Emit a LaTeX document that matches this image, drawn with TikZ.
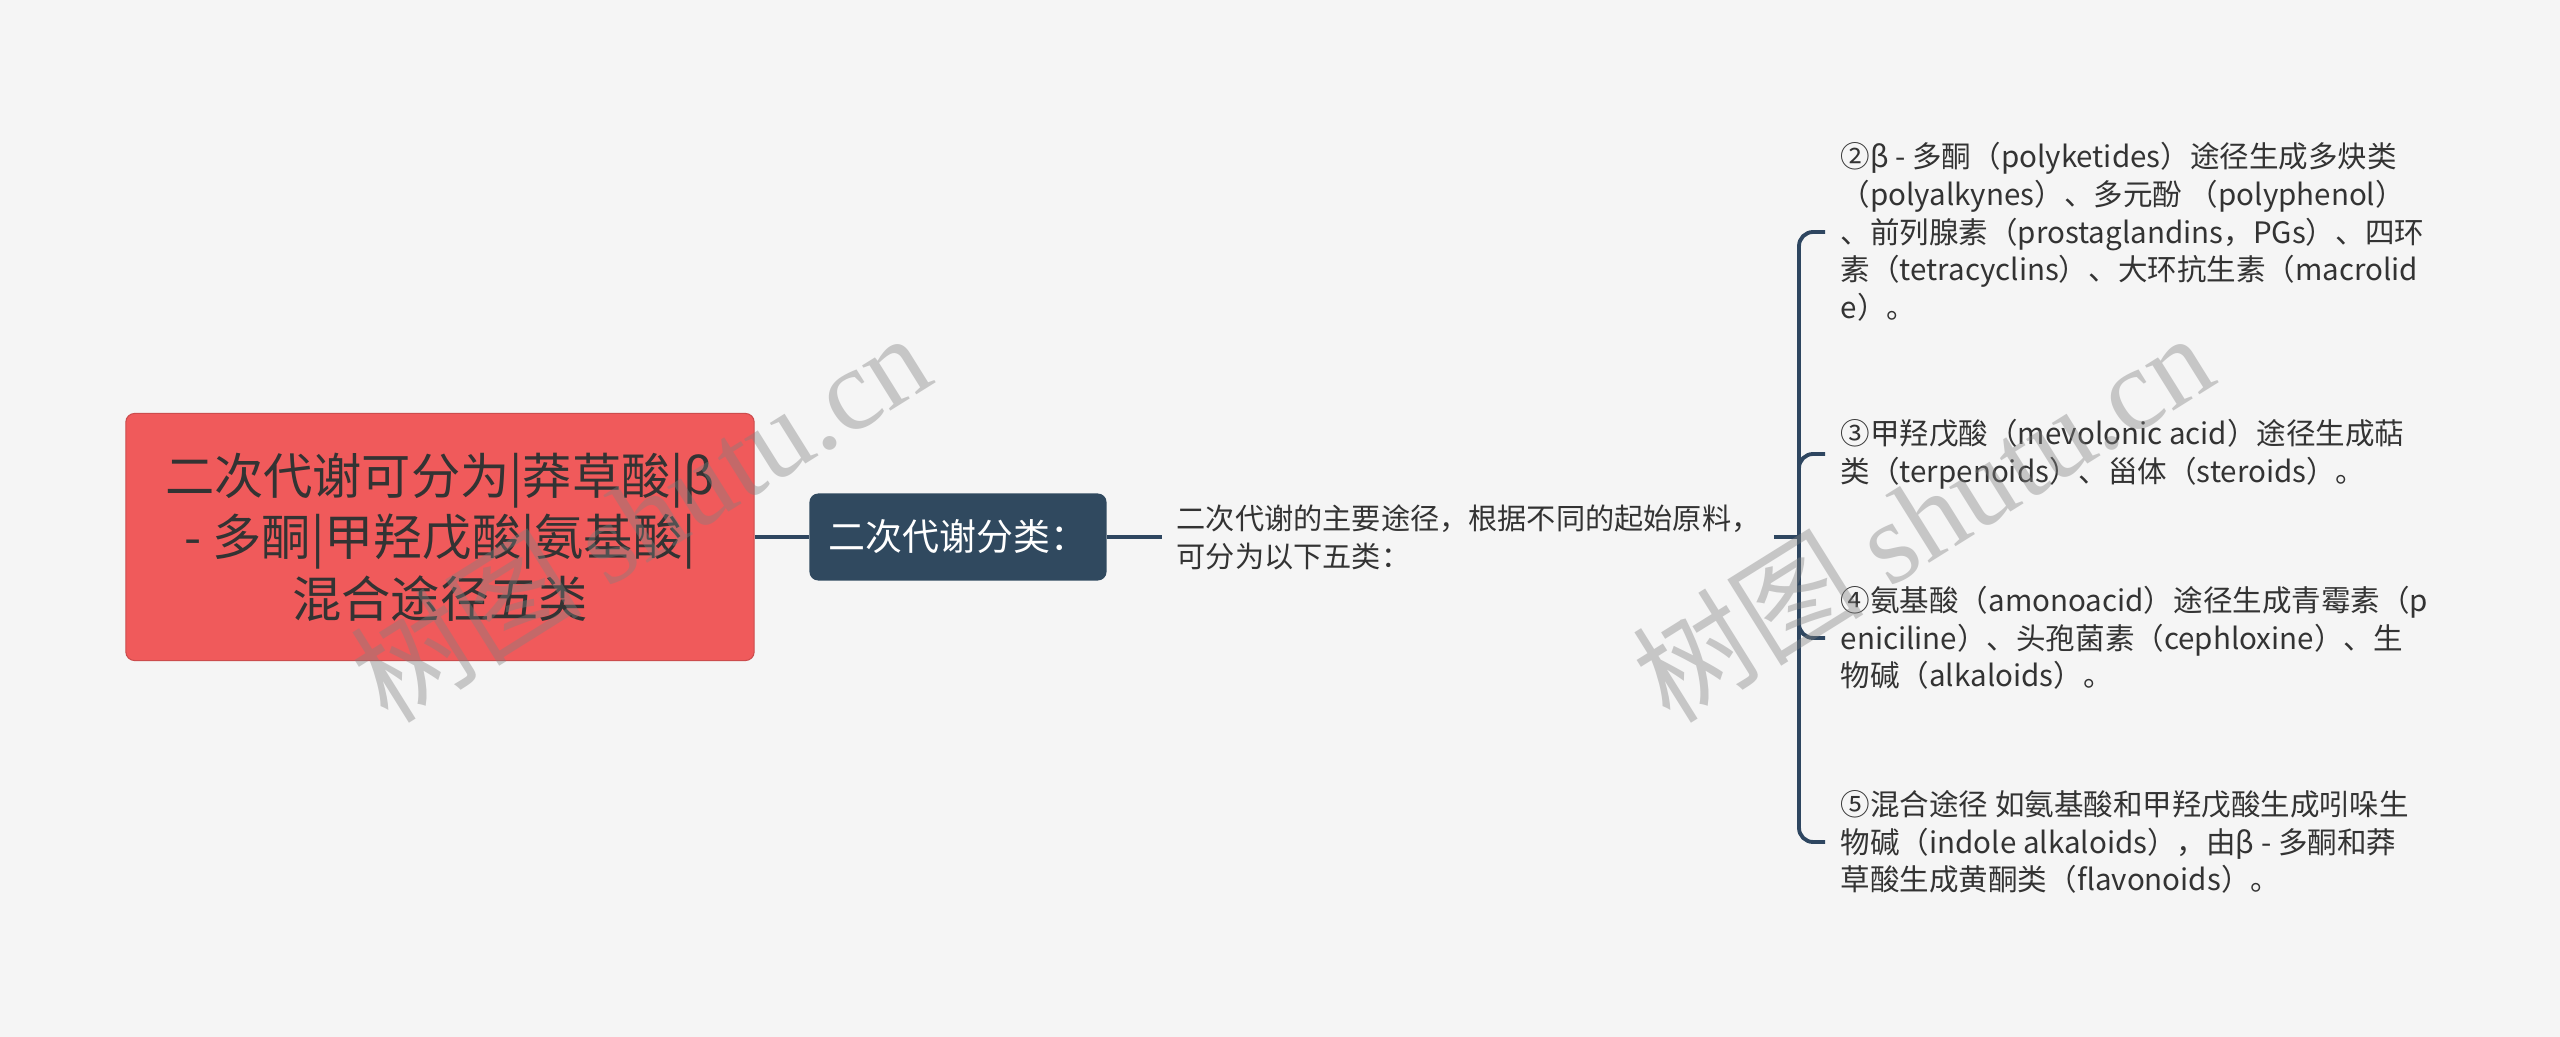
\documentclass[tikz,border=0pt]{standalone}
\usepackage{fontspec}
\usepackage{tikz}
\usetikzlibrary{positioning}
\setmainfont{Noto Sans CJK SC}
\newfontfamily\wmfont{Liberation Serif}
\definecolor{bgc}{HTML}{F5F5F5}
\definecolor{rootc}{HTML}{F05A5B}
\definecolor{boxc}{HTML}{30495F}
\definecolor{linec}{HTML}{2E4660}
\definecolor{textc}{HTML}{333333}

\begin{document}
\begin{tikzpicture}[x=0.01cm,y=-0.01cm,
 link/.style={draw=linec,line width=1.1pt},
 rootbox/.style={fill=rootc,draw=rootc!85!black,line width=0.3pt,rounded corners=2.5pt,minimum width=6.28cm,minimum height=2.47cm,align=center,text=textc,font=\fontsize{14}{17.5}\selectfont},
 catbox/.style={fill=boxc,rounded corners=2.5pt,minimum width=2.97cm,minimum height=0.87cm,text=white,font=\fontsize{10.5}{12}\selectfont},
 desc/.style={anchor=west,align=left,text width=5.82cm,inner xsep=0.14cm,text=textc,font=\fontsize{8.3}{10.8}\selectfont},
 leaf/.style={anchor=west,align=left,inner xsep=0.15cm,inner ysep=0pt,text=textc,font=\fontsize{8.4}{10.7}\selectfont},
 wm/.style={rotate=32,text=gray,opacity=0.4,font=\fontsize{33}{35}\selectfont}]
 \fill[bgc] (0,0) rectangle (2560,1037);
 % main topic and first branch
 \node[rootbox] (root) at (440,537) {二次代谢可分为|莽草酸|β\\- 多酮|甲羟戊酸|氨基酸|\\混合途径五类};
 \node[catbox] (cat) at (958,537) {二次代谢分类：};
 \node[desc] (desc) at (1162,537) {二次代谢的主要途径，根据不同的起始原料，\\可分为以下五类：};
 \coordinate (jn) at (1799,537);
 % the four pathways
 \node[leaf] (p2) at (1825,232) {②β - 多酮（polyketides）途径生成多炔类\\（polyalkynes）、多元酚 （polyphenol）\\、前列腺素（prostaglandins，PGs）、四环\\素（tetracyclins）、大环抗生素（macrolid\\e）。};
 \node[leaf] (p3) at (1825,454) {③甲羟戊酸（mevolonic acid）途径生成萜\\类（terpenoids）、甾体（steroids）。};
 \node[leaf] (p4) at (1825,638) {④氨基酸（amonoacid）途径生成青霉素（p\\eniciline）、头孢菌素（cephloxine）、生\\物碱（alkaloids）。};
 \node[leaf] (p5) at (1825,842) {⑤混合途径 如氨基酸和甲羟戊酸生成吲哚生\\物碱（indole alkaloids），由β - 多酮和莽\\草酸生成黄酮类（flavonoids）。};
 \draw[link] (root) -- (cat);
 \draw[link] (cat) -- (desc);
 \draw[link] (desc) -- (jn);
 \draw[link,rounded corners=4pt] (jn) |- (p2.west);
 \draw[link,rounded corners=4pt] (jn) |- (p3.west);
 \draw[link,rounded corners=4pt] (jn) |- (p4.west);
 \draw[link,rounded corners=4pt] (jn) |- (p5.west);
 % watermarks
 \node[wm] (wm1) at (640,516) {树图 {\wmfont shutu.cn}};
 \node[wm] (wm2) at (1922,516) {树图 {\wmfont shutu.cn}};
\end{tikzpicture}
\end{document}
